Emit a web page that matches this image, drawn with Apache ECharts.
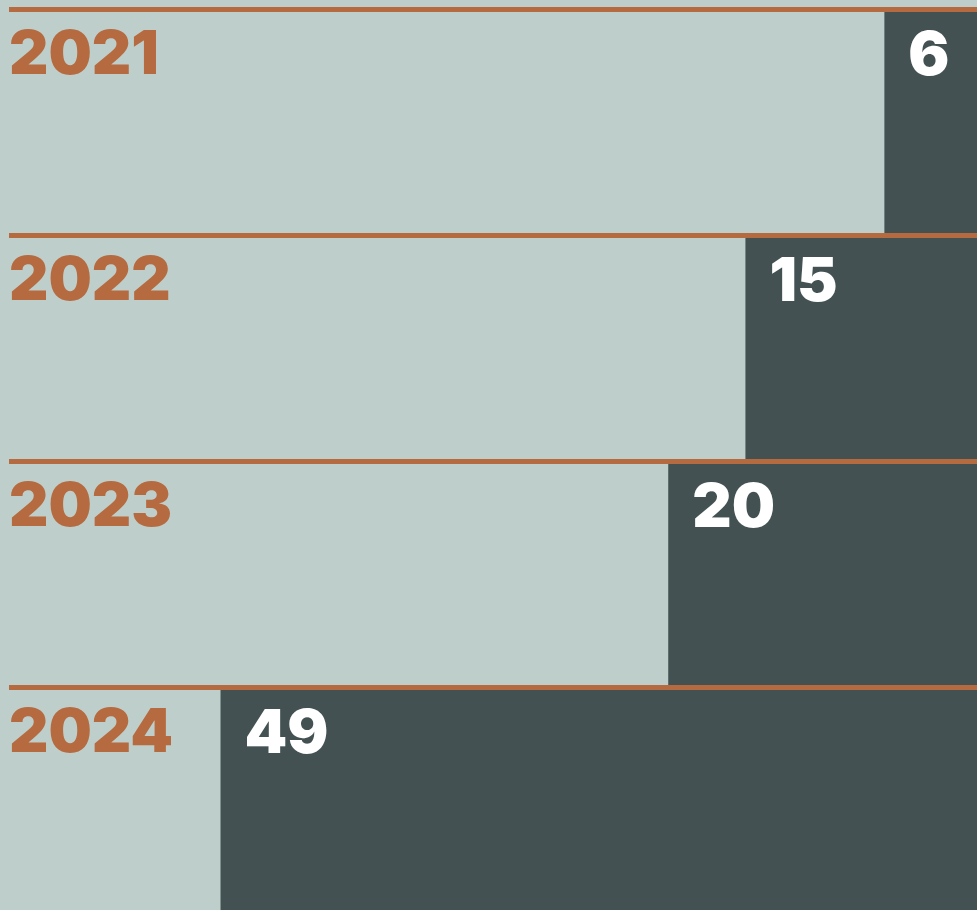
<!DOCTYPE html>
<html>
<head>
<meta charset="utf-8">
<script src="https://cdn.jsdelivr.net/npm/echarts@6/dist/echarts.min.js"></script>
<style>
html,body{margin:0;padding:0;background:#BECFCB;overflow:hidden;width:977px;height:910px;}
#chart{width:977px;height:913px;}
</style>
</head>
<body>
<div id="chart"></div>
<script>
var years = ['2021', '2022', '2023', '2024'];
var values = [6, 15, 20, 49];
var axisMax = 62.7;

var FONT = 'Inter';
var chart = echarts.init(document.getElementById('chart'), null, {renderer: 'canvas'});
chart.setOption({
  backgroundColor: '#BECFCB',
  animation: false,
  grid: {left: 9, right: 0, top: 9.5, bottom: 0, containLabel: false},
  xAxis: {type: 'value', inverse: true, min: 0, max: axisMax, show: false},
  yAxis: {
    type: 'category', inverse: true, data: years, z: 10,
    axisLine: {show: false}, axisTick: {show: false},
    splitLine: {show: true, interval: 0, lineStyle: {color: '#B66A40', width: 5}},
    axisLabel: {
      inside: true, interval: 0, margin: 0, align: 'left', verticalAlign: 'middle',
      formatter: function (v) { return '{y|' + v + '}\n{s|}'; },
      rich: {
        y: {color: '#B66A40', fontFamily: FONT, fontWeight: 900, fontSize: 61, lineHeight: 61},
        s: {height: 133, lineHeight: 133, fontSize: 10}
      }
    }
  },
  series: [{
    type: 'bar', data: values, barWidth: '100%',
    itemStyle: {color: '#435153'},
    label: {
      show: true, position: [24, 17], color: '#FFFFFF',
      fontFamily: FONT, fontWeight: 900, fontSize: 61, lineHeight: 61
    }
  }]
});
</script>
</body>
</html>
